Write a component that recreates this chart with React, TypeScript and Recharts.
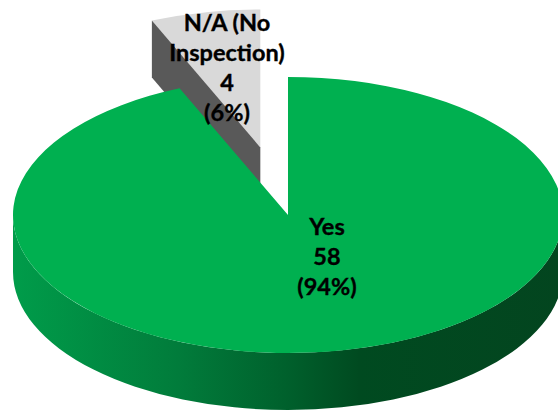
import { PieChart, Pie } from 'recharts'

const categories = ['N/A (No Inspection)', 'Yes']
const counts = [4, 58]
const shares = ['(6%)', '(94%)']
const labelNames = [['N/A (No', 'Inspection)'], ['Yes']]

const data = categories.map((name, i) => ({
  name,
  value: counts[i],
  share: shares[i],
  lines: labelNames[i]
}))

const total = counts.reduce((a, b) => a + b, 0)
// the Yes slice starts at 12 o'clock, so the N/A slice sits just before it
const firstAngle = 90 + (360 * counts[0]) / total

const SQUASH = 138 / 275
const DEPTH = 57
const EXPLODE = 0.5
const RAD = Math.PI / 180

const sliceColors: Record<string, string> = {
  'N/A (No Inspection)': '#D9D9D9',
  Yes: '#00B050'
}
const labelCenters: Record<string, { dx: number; dy: number }> = {
  'N/A (No Inspection)': { dx: -61, dy: -148 },
  Yes: { dx: 39, dy: 41 }
}

function TiltedSlice(props: any) {
  const { cx, cy, outerRadius, startAngle, endAngle, name } = props
  const rx = outerRadius
  const ry = outerRadius * SQUASH
  const isNA = name === categories[0]
  const mid = ((startAngle + endAngle) / 2) * RAD
  const ax = cx + (isNA ? EXPLODE * rx * Math.cos(mid) : 0)
  const ay = cy - (isNA ? EXPLODE * ry * Math.sin(mid) : 0)
  const px = (deg: number) => ax + rx * Math.cos(deg * RAD)
  const py = (deg: number) => ay - ry * Math.sin(deg * RAD)
  const large = Math.abs(startAngle - endAngle) > 180 ? 1 : 0
  const top = `M${ax},${ay} L${px(startAngle)},${py(startAngle)} A${rx},${ry} 0 ${large} 1 ${px(endAngle)},${py(endAngle)} Z`

  if (isNA) {
    const wall = `M${ax},${ay} L${px(startAngle)},${py(startAngle)} L${px(startAngle)},${py(startAngle) + DEPTH} L${ax},${ay + DEPTH} Z`
    return (
      <g>
        <path d={top} fill={sliceColors[name]} />
        <path d={wall} fill="#595959" />
      </g>
    )
  }

  const side = `M${ax - rx},${ay} A${rx},${ry} 0 0 0 ${ax + rx},${ay} L${ax + rx},${ay + DEPTH} A${rx},${ry} 0 0 1 ${ax - rx},${ay + DEPTH} Z`
  return (
    <g>
      <defs>
        <linearGradient id="yesSide" gradientUnits="userSpaceOnUse" x1={ax - rx} x2={ax + rx} y1="0" y2="0">
          <stop offset="0" stopColor="#009C4A" />
          <stop offset="0.3" stopColor="#017C3B" />
          <stop offset="0.5" stopColor="#00602C" />
          <stop offset="0.63" stopColor="#004A20" />
          <stop offset="1" stopColor="#03451F" />
        </linearGradient>
      </defs>
      <path d={side} fill="url(#yesSide)" />
      <path d={top} fill={sliceColors[name]} />
    </g>
  )
}

function SliceLabel(props: any) {
  const { cx, cy, name, payload } = props
  const { dx, dy } = labelCenters[name]
  const lines = [...payload.lines, String(payload.value), payload.share]
  const lineHeight = 30.3
  const firstY = cy + dy - ((lines.length - 1) * lineHeight) / 2
  return (
    <g>
      {lines.map((line: string, i: number) => (
        <text
          key={line}
          x={cx + dx}
          y={firstY + i * lineHeight}
          textAnchor="middle"
          dominantBaseline="central"
          fontFamily="Lato"
          fontWeight={700}
          fontSize={23.5}
          fill="#000"
          stroke="#000"
          strokeWidth={0.35}
        >
          {line}
        </text>
      ))}
    </g>
  )
}

export default function App() {
  return (
    <div style={{ position: 'absolute', left: 0, top: 0, width: 558, height: 411, overflow: 'hidden' }}>
      <PieChart width={558} height={411} margin={{ top: 0, right: 0, bottom: 0, left: 0 }}>
        <Pie
          data={data}
          dataKey="value"
          nameKey="name"
          cx={288}
          cy={215}
          outerRadius={275}
          startAngle={firstAngle}
          endAngle={firstAngle - 360}
          stroke="none"
          shape={TiltedSlice}
          label={SliceLabel}
          labelLine={false}
          isAnimationActive={false}
        />
      </PieChart>
    </div>
  )
}
